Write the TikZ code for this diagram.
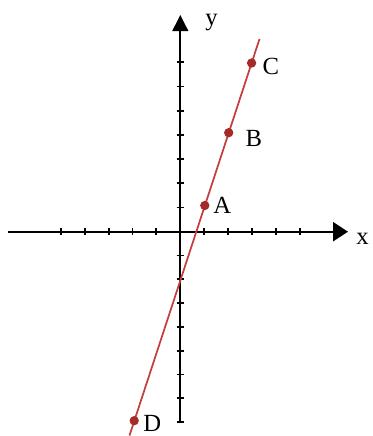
\documentclass[tikz,border=0pt]{standalone}
\usepackage{fontspec}
\setmainfont{Liberation Serif}
\usetikzlibrary{arrows.meta}
\definecolor{linered}{RGB}{196,62,62}
\definecolor{dotred}{RGB}{165,42,42}
\tikzset{
  axis/.style={line width=1.7pt, black},
  tickmark/.style={line width=1.4pt, black},
  graphline/.style={line width=1.3pt, linered},
  ptdot/.style={circle, fill=dotred, inner sep=0pt, minimum size=7pt},
  lbl/.style={anchor=base west, inner sep=0pt, font=\fontsize{18.5}{20}\selectfont}
}
\begin{document}
\begin{tikzpicture}[x=0.75pt,y=-0.75pt]
\useasboundingbox (0,0) rectangle (372,436);
% axes
\coordinate (xl) at (8,231.7);
\coordinate (xr) at (348,231.7);
\coordinate (yb) at (180.3,422.5);
\coordinate (yt) at (180.3,15);
\draw[axis,-{Triangle[length=11.25pt,width=14.25pt]}] (xl) -- (xr);
\draw[axis,-{Triangle[length=12pt,width=11.7pt]}] (yb) -- (yt);
% x ticks
\foreach \k in {-5,-4,-3,-2,-1,1,2,3,4,5}
  \draw[tickmark] (180.3+23.9*\k,228) -- (180.3+23.9*\k,235.4);
% y ticks above
\foreach \k in {1,...,7}
  \draw[tickmark] (176.6,231.7-24.2*\k) -- (184,231.7-24.2*\k);
% y ticks below
\foreach \k in {1,...,8}
  \draw[tickmark] (176.6,231.7+23.8*\k) -- (184,231.7+23.8*\k);
% line
\coordinate (lb) at (129.5,435.5);
\coordinate (lt) at (259.5,39);
\draw[graphline] (lb) -- (lt);
% points
\node[ptdot] (D) at (134.2,420.7) {};
\node[ptdot] (A) at (204.8,205.5) {};
\node[ptdot] (B) at (228.7,132.7) {};
\node[ptdot] (C) at (251.6,63) {};
% labels
\node[lbl] (lA) at (213,213.3) {A};
\node[lbl] (lB) at (245.3,146) {B};
\node[lbl] (lC) at (262.3,74) {C};
\node[lbl] (lD) at (143,431.5) {D};
\node[lbl] (lx) at (356,244.3) {x};
\node[lbl] (ly) at (205,25.3) {y};
\end{tikzpicture}
\end{document}
